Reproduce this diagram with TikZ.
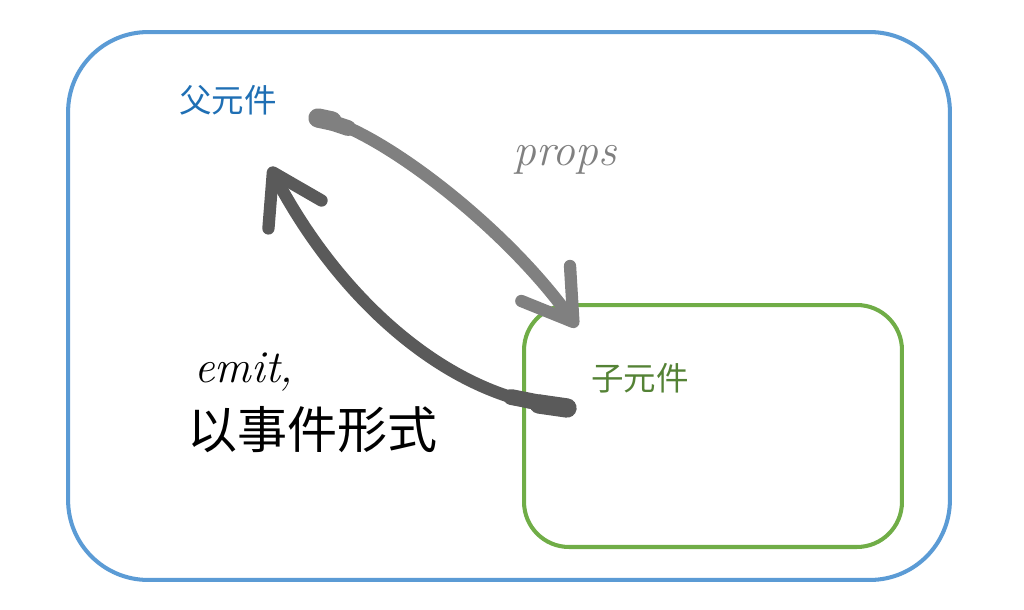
\documentclass[tikz,border=0pt]{standalone}
\usepackage{fontspec}
\newfontfamily\cjk{Noto Sans CJK SC}
\usepackage{xcolor}
\usetikzlibrary{arrows.meta,positioning,calc}

\definecolor{parentblue}{RGB}{91,155,213}
\definecolor{parenttext}{RGB}{31,111,180}
\definecolor{childgreen}{RGB}{112,173,71}
\definecolor{childtext}{RGB}{84,130,53}
\definecolor{propsgray}{RGB}{128,128,128}
\definecolor{emitgray}{RGB}{90,90,90}

\begin{document}
\begin{tikzpicture}[
  x=0.02cm, y=-0.02cm,
  compbox/.style={draw, line width=2.3pt, minimum width=#1},
  compname/.style={font=\cjk\fontsize{18.5}{22}\selectfont},
  flow/.style={line width=7pt, line cap=round,
    -{Straight Barb[length=0.95cm, width=1.2cm, line cap=round, line join=round]},
    preaction={draw=black!22, transform canvas={shift={(2pt,-2pt)}}}},
  tail/.style={line width=#1, line cap=round},
]
\useasboundingbox (0,0) rectangle (1024,609);
% component boxes
\node[compbox=17.64cm, parentblue, minimum height=10.96cm,
  rounded corners=1.6cm] (parent) at (509,306) {};
\node[compbox=7.56cm, childgreen, minimum height=4.84cm,
  rounded corners=0.9cm] (child) at (713,426) {};
\node[compname, parenttext] (P) at (228,100) {父元件};
\node[compname, childtext] (C) at (640,378) {子元件};
% data flow
\coordinate (propsFrom) at (318,118);
\coordinate (propsA) at (332,121);
\coordinate (propsB) at (348,128);
\coordinate (propsTo) at (577,327);
\coordinate (emitFrom) at (567,408);
\coordinate (emitA) at (539,404);
\coordinate (emitB) at (511,397);
\coordinate (emitTo) at (270,167);
\draw[flow, propsgray] (propsFrom) .. controls (370,125) and (500,220) .. (propsTo);
\draw[tail=11pt, propsgray] (propsFrom) -- (propsA);
\draw[tail=9pt, propsgray] (propsFrom) -- (propsB);
\draw[flow, emitgray] (emitFrom) .. controls (450,400) and (340,300) .. (emitTo);
\draw[tail=11pt, emitgray] (emitFrom) -- (emitA);
\draw[tail=9pt, emitgray] (emitFrom) -- (emitB);
\node[propsgray, font=\itshape\fontsize{26}{30}\selectfont] (props) at (565,160) {props};
\node[anchor=west, font=\itshape\fontsize{26}{30}\selectfont] (emit) at (188,372) {emit,};
\node[anchor=west, font=\cjk\fontsize{28.5}{32}\selectfont] (form) at (181,430) {以事件形式};
\end{tikzpicture}
\end{document}
